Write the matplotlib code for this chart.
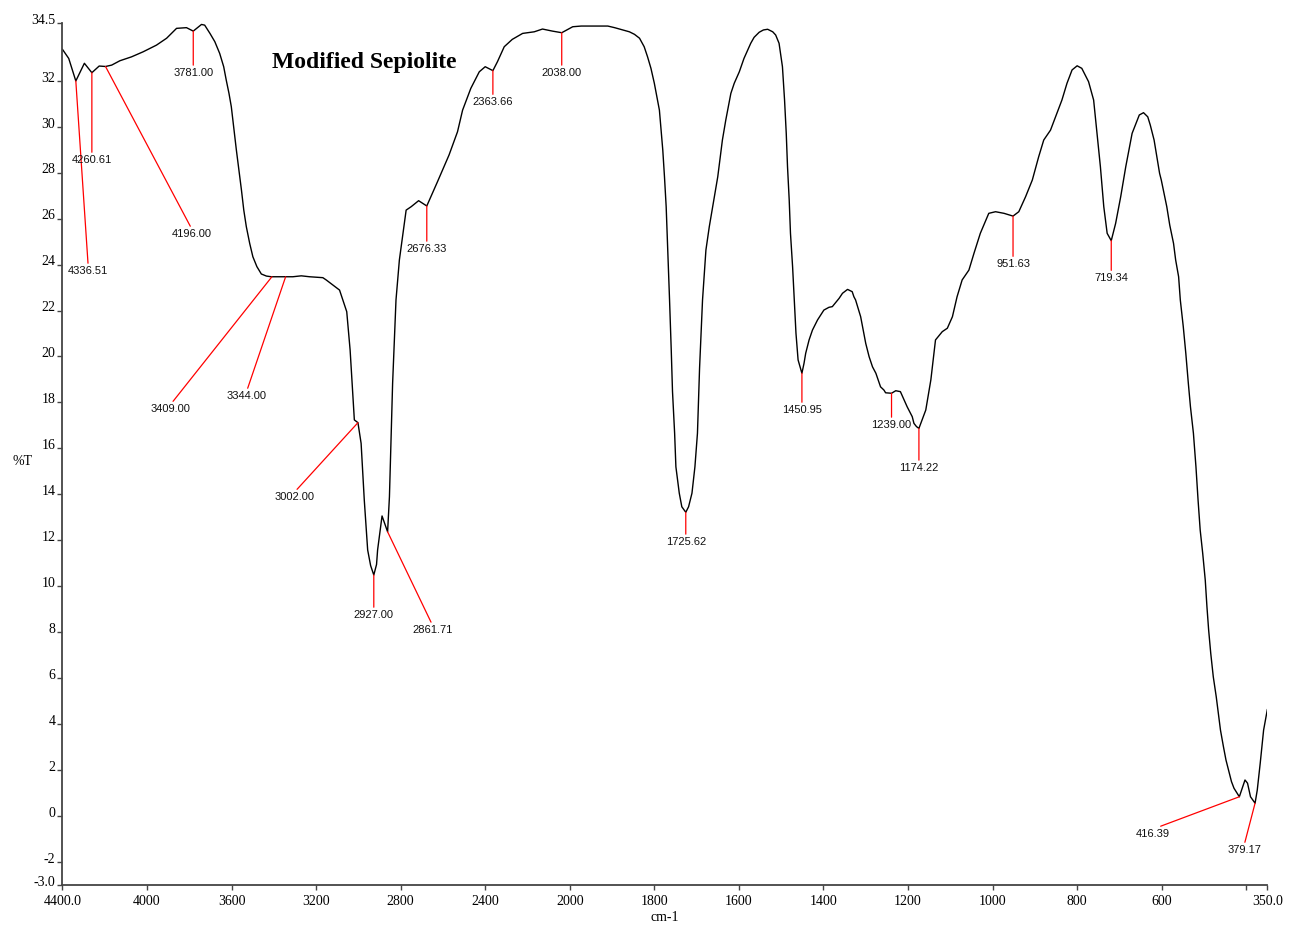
import numpy as np
import matplotlib
matplotlib.use("Agg")
import matplotlib.pyplot as plt
from matplotlib.ticker import FixedLocator, FixedFormatter
from matplotlib.transforms import ScaledTranslation

# ---------------- data ----------------
wavenumber = [
    4400, 4370, 4336.51, 4296, 4260.61, 4226, 4196, 4167, 4128, 4073,
    4018, 3955, 3907, 3860, 3813, 3781, 3742, 3727, 3702, 3679,
    3656, 3637, 3625, 3612, 3601, 3590, 3577, 3565, 3553, 3542,
    3530, 3514, 3499, 3480, 3459, 3435, 3412, 3310, 3270, 3231,
    3168, 3152, 3089, 3055, 3039, 3019, 3002, 2987, 2972, 2956,
    2942, 2927, 2914, 2909, 2888, 2861.71, 2853, 2838, 2822, 2806,
    2774, 2750, 2715, 2676.33, 2626, 2571, 2531, 2507, 2468, 2428,
    2400, 2363.66, 2342, 2310, 2272, 2223, 2168, 2129, 2082, 2038,
    1993, 1973, 1910, 1894, 1859, 1847, 1835, 1824, 1816, 1808,
    1800, 1794, 1788, 1784, 1780, 1776, 1772, 1764, 1760, 1757,
    1752, 1749, 1741, 1735, 1725.62, 1719, 1711, 1704, 1698, 1693,
    1686, 1678, 1670, 1666, 1658, 1650, 1639, 1631, 1619, 1611,
    1599, 1588, 1572, 1564, 1552, 1542, 1532, 1520, 1513, 1505,
    1497, 1492, 1488, 1485, 1481, 1478, 1473, 1469, 1465, 1460,
    1450.95, 1446, 1442, 1434, 1426, 1418, 1414, 1399, 1387, 1379,
    1363, 1355, 1343, 1332, 1328, 1324, 1312, 1300, 1292, 1284,
    1276, 1265, 1257, 1253, 1239, 1229, 1218, 1202, 1190, 1186,
    1180, 1174.22, 1158, 1146, 1135, 1119, 1107, 1095, 1084, 1072,
    1056, 1044, 1029, 1009, 993, 973, 951.63, 938, 922, 906,
    891, 879, 863, 851, 836, 824, 812, 800, 789, 773,
    761, 753, 745, 737, 729, 719.34, 709, 697, 685, 670,
    653, 643, 633, 627, 618, 605, 601, 588, 581, 572,
    567, 560, 556, 549, 543, 537, 532, 525, 519, 514,
    509, 503, 497, 493, 489, 484, 478, 471, 466, 461,
    454, 448, 440, 435, 429, 416.39, 411, 403, 397, 390,
    379.17, 374, 367, 359, 350,
]
transmittance = [
    33.37, 32.97, 31.99, 32.76, 32.35, 32.64, 32.62, 32.68, 32.87, 33.04,
    33.26, 33.55, 33.85, 34.28, 34.31, 34.16, 34.45, 34.42, 34.06, 33.70,
    33.19, 32.61, 32.03, 31.45, 30.87, 30.00, 28.98, 28.11, 27.24, 26.37,
    25.65, 24.92, 24.34, 23.91, 23.59, 23.50, 23.47, 23.47, 23.51, 23.47,
    23.43, 23.33, 22.89, 21.95, 20.28, 17.24, 17.12, 16.22, 13.75, 11.58,
    10.90, 10.49, 10.95, 11.58, 13.06, 12.37, 13.90, 18.83, 22.46, 24.20,
    26.37, 26.52, 26.78, 26.55, 27.60, 28.77, 29.78, 30.72, 31.67, 32.39,
    32.61, 32.44, 32.83, 33.48, 33.80, 34.06, 34.13, 34.25, 34.16, 34.09,
    34.35, 34.38, 34.38, 34.31, 34.13, 34.02, 33.85, 33.48, 33.04, 32.54,
    31.89, 31.30, 30.72, 29.85, 28.98, 27.82, 26.52, 22.46, 20.28, 18.47,
    16.66, 15.20, 14.05, 13.46, 13.22, 13.46, 14.05, 15.20, 16.66, 19.50,
    22.46, 24.63, 25.65, 26.08, 26.95, 27.82, 29.42, 30.29, 31.45, 31.89,
    32.39, 32.97, 33.63, 33.89, 34.11, 34.21, 34.24, 34.13, 33.99, 33.63,
    32.61, 31.16, 29.71, 28.26, 26.81, 25.36, 23.91, 22.46, 21.01, 19.85,
    19.27, 19.70, 20.14, 20.72, 21.15, 21.44, 21.59, 22.02, 22.14, 22.17,
    22.53, 22.75, 22.92, 22.82, 22.60, 22.46, 21.73, 20.57, 19.99, 19.55,
    19.27, 18.68, 18.54, 18.42, 18.40, 18.51, 18.47, 17.81, 17.38, 17.09,
    16.95, 16.87, 17.67, 18.98, 20.72, 21.08, 21.23, 21.73, 22.60, 23.33,
    23.76, 24.49, 25.36, 26.23, 26.30, 26.23, 26.11, 26.30, 26.95, 27.68,
    28.69, 29.42, 29.85, 30.43, 31.16, 31.89, 32.47, 32.65, 32.54, 31.96,
    31.16, 29.71, 28.26, 26.52, 25.36, 25.04, 25.79, 26.95, 28.26, 29.71,
    30.51, 30.61, 30.43, 30.07, 29.42, 27.97, 27.68, 26.52, 25.72, 24.92,
    24.20, 23.47, 22.46, 21.30, 20.14, 18.83, 17.81, 16.66, 15.20, 13.75,
    12.45, 11.43, 10.27, 9.11, 8.10, 7.08, 6.06, 5.19, 4.47, 3.74,
    3.02, 2.44, 1.86, 1.50, 1.21, 0.84, 1.13, 1.57, 1.43, 0.84,
    0.56, 1.13, 2.30, 3.74, 4.65,
]

peak_wn = [4336.51, 4260.61, 4196.00, 3781.00, 3409.00, 3344.00, 3002.00,
           2927.00, 2861.71, 2676.33, 2363.66, 2038.00, 1725.62, 1450.95,
           1239.00, 1174.22, 951.63, 719.34, 416.39, 379.17]
label_wn = [4278, 4260.61, 3788, 3781, 3887, 3528, 3302,
            2927, 2650, 2676.33, 2363.66, 2038, 1725.62, 1450.95,
            1239, 1174.22, 951.63, 719.34, 620, 405]
label_T = [23.72, 28.55, 25.33, 32.34, 17.71, 18.28, 13.88,
           8.75, 8.10, 24.68, 31.07, 32.34, 11.93, 17.67,
           17.02, 15.15, 24.02, 23.41, -0.78, -1.48]

x_ticks = [4400, 4000, 3600, 3200, 2800, 2400, 2000, 1800, 1600, 1400,
           1200, 1000, 800, 600, 400, 350]
x_tick_labels = ['4400.0', '4000', '3600', '3200', '2800', '2400', '2000',
                 '1800', '1600', '1400', '1200', '1000', '800', '600', '', '350.0']
y_ticks = [-3, -2, 0, 2, 4, 6, 8, 10, 12, 14, 16, 18, 20, 22, 24, 26, 28, 30, 32, 34.5]
y_tick_labels = ['-3.0', '-2', '0', '2', '4', '6', '8', '10', '12', '14', '16',
                 '18', '20', '22', '24', '26', '28', '30', '32', '34.5']

title_text = "Modified Sepiolite"

# ---------------- figure ----------------
SERIF = ['Liberation Serif', 'DejaVu Serif']
SANS = ['Liberation Sans', 'DejaVu Sans']

fig = plt.figure(figsize=(12.98, 9.27), dpi=100)
ax = fig.add_axes([0.04807, 0.04531, 0.92836, 0.92956])


def fwd(x):
    x = np.asarray(x, dtype=float)
    return np.where(x > 2000, 2000 + (x - 2000) / 2.0, x)


def inv(y):
    y = np.asarray(y, dtype=float)
    return np.where(y > 2000, 2000 + (y - 2000) * 2.0, y)


ax.set_xscale('function', functions=(fwd, inv))
ax.plot(wavenumber, transmittance, color='black', lw=1.0,
        solid_joinstyle='round', solid_capstyle='round')
ax.set_xlim(4400, 350)
ax.set_ylim(-3, 34.5)

# peak annotations
wn_arr = np.array(wavenumber)[::-1]
t_arr = np.array(transmittance)[::-1]
for pw, lx, ly in zip(peak_wn, label_wn, label_T):
    py = float(np.interp(pw, wn_arr, t_arr))
    ax.annotate(f"{pw:.2f}", xy=(pw, py), xytext=(lx, ly),
                textcoords='data', ha='center', va='center',
                fontsize=8, family=SANS, color='#111111',
                arrowprops=dict(arrowstyle='-', color='red', lw=0.9,
                                shrinkA=0, shrinkB=0, relpos=(0.5, 1.0)))

# axes styling
for s in ['top', 'right']:
    ax.spines[s].set_visible(False)
for s in ['left', 'bottom']:
    ax.spines[s].set_color('#444444')
    ax.spines[s].set_linewidth(1.3)

ax.xaxis.set_major_locator(FixedLocator(x_ticks))
ax.xaxis.set_major_formatter(FixedFormatter(x_tick_labels))
ax.xaxis.set_minor_locator(FixedLocator([]))
ax.yaxis.set_major_locator(FixedLocator(y_ticks))
ax.yaxis.set_major_formatter(FixedFormatter(y_tick_labels))
ax.tick_params(axis='both', direction='out', length=3.5, width=1.0,
               color='#444444', labelsize=10)
ax.tick_params(axis='x', pad=4)
ax.tick_params(axis='y', pad=1.5)
for lab in ax.get_xticklabels() + ax.get_yticklabels():
    lab.set_family(SERIF)
for lab in ax.get_yticklabels():
    lab.set_transform(lab.get_transform() + ScaledTranslation(0, 3 / 72, fig.dpi_scale_trans))

ax.set_xlabel('cm-1', family=SERIF, fontsize=10, labelpad=2)
ax.text(-0.0335, 0.491, '%T', transform=ax.transAxes, ha='center', va='center',
        family=SERIF, fontsize=10)
ax.text(0.2504, 0.955, title_text, transform=ax.transAxes, ha='center', va='center',
        family=SERIF, fontsize=17, fontweight='bold')

fig.savefig('out.png', dpi=100)
